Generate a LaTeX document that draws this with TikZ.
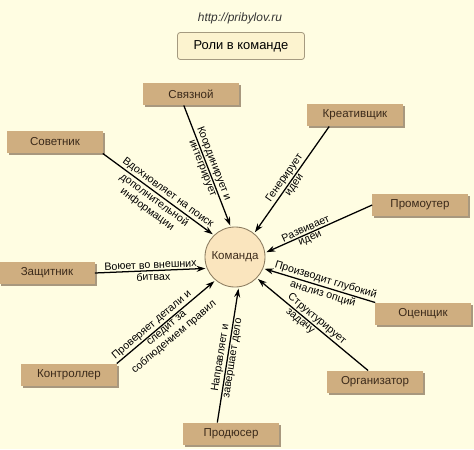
\documentclass[tikz,border=0pt]{standalone}
\usepackage{fontspec}
\setmainfont{Liberation Sans}
\usepackage{tikz}
\usetikzlibrary{arrows.meta, shadows}
\definecolor{bgcol}{HTML}{FFFDE2}
\definecolor{boxcol}{HTML}{CFAE80}
\definecolor{shadowcol}{HTML}{A8987E}
\definecolor{boxtext}{HTML}{3B2A1A}
\definecolor{circfill}{HTML}{FAE5BE}
\definecolor{circline}{HTML}{8A7A5E}
\definecolor{titlefill}{HTML}{FCF3CF}
\definecolor{titleline}{HTML}{A59A80}

\begin{document}
\begin{tikzpicture}[x=0.025cm, y=-0.025cm, >={Stealth[length=2.2mm, width=1.5mm]},
  role/.style={rectangle, fill=boxcol, minimum width=2.375cm, minimum height=0.56cm, inner sep=0pt,
    font=\fontsize{8.2}{9}\selectfont, text=boxtext,
    drop shadow={shadow xshift=0.05cm, shadow yshift=-0.05cm, fill=shadowcol, opacity=1}},
  team/.style={circle, draw=circline, fill=circfill, minimum size=1.5cm, inner sep=0pt,
    font=\fontsize{8.2}{9}\selectfont, text=boxtext, line width=0.6pt},
  titlebox/.style={rectangle, rounded corners=2pt, draw=titleline, fill=titlefill, line width=0.6pt,
    minimum width=3.175cm, minimum height=0.675cm, font=\fontsize{9.2}{10}\selectfont},
  link/.style={->, line width=0.9pt, shorten >=1pt},
  lbl/.style={font=\fontsize{7.6}{8.3}\selectfont, sloped, inner sep=1pt, align=center}]
\useasboundingbox (0,0) rectangle (474,449);
\fill[bgcol] (0,0) rectangle (474,449);
% header
\node[font=\itshape\fontsize{8.5}{9}\selectfont, text=black!80] (url) at (240,18) {http://pribylov.ru};
\node[titlebox] (title) at (241,46) {Роли в команде};
% team and roles
\node[team] (cmd) at (235,257) {Команда};
\node[role] (svyaz) at (191,94)  {Связной};
\node[role] (krea)  at (355,115) {Креативщик};
\node[role] (sovet) at (55,142)  {Советник};
\node[role] (promo) at (420,205) {Промоутер};
\node[role] (zasch) at (47,273)  {Защитник};
\node[role] (otsen) at (423,314) {Оценщик};
\node[role] (kontr) at (69,375)  {Контроллер};
\node[role] (org)   at (375,382) {Организатор};
\node[role] (prod)  at (231,434) {Продюсер};
% links to the team
\draw[link] (svyaz.238) -- node[lbl, above, pos=0.5] {Координирует и} node[lbl, below, pos=0.5] {интегрирует} (cmd.98);
\draw[link] (krea.204) -- node[lbl, above, pos=0.52] {Генерирует} node[lbl, below, pos=0.52] {идеи} (cmd.51);
\draw[link] (sovet.south east) -- node[lbl, above, pos=0.55] {Вдохновляет на поиск} node[lbl, below, pos=0.5] {дополнительной\\информации} (cmd.134);
\draw[link] (promo.west) -- node[lbl, above, pos=0.6] {Развивает} node[lbl, below, pos=0.6] {идеи} (cmd.8);
\draw[link] (zasch.east) -- node[lbl, above, pos=0.5] {Воюет во внешних} node[lbl, below, pos=0.52] {битвах} (cmd.202);
\draw[link] (otsen.north west) -- node[lbl, above, pos=0.46] {Производит глубокий} node[lbl, below, pos=0.45] {анализ опций} (cmd.338);
\draw[link] (org.121) -- node[lbl, above, pos=0.5] {Структурирует} node[lbl, below, pos=0.58] {задачу} (cmd.316);
\draw[link] (prod.140) -- node[lbl, above, pos=0.47] {Направляет и} node[lbl, below, pos=0.48] {завершает дело} (cmd.277);
\draw[link] (kontr.north east) -- node[lbl, above, pos=0.4] {Проверяет детали и} node[lbl, below, pos=0.47] {следит за\\соблюдением правил} (cmd.230);
\end{tikzpicture}
\end{document}
